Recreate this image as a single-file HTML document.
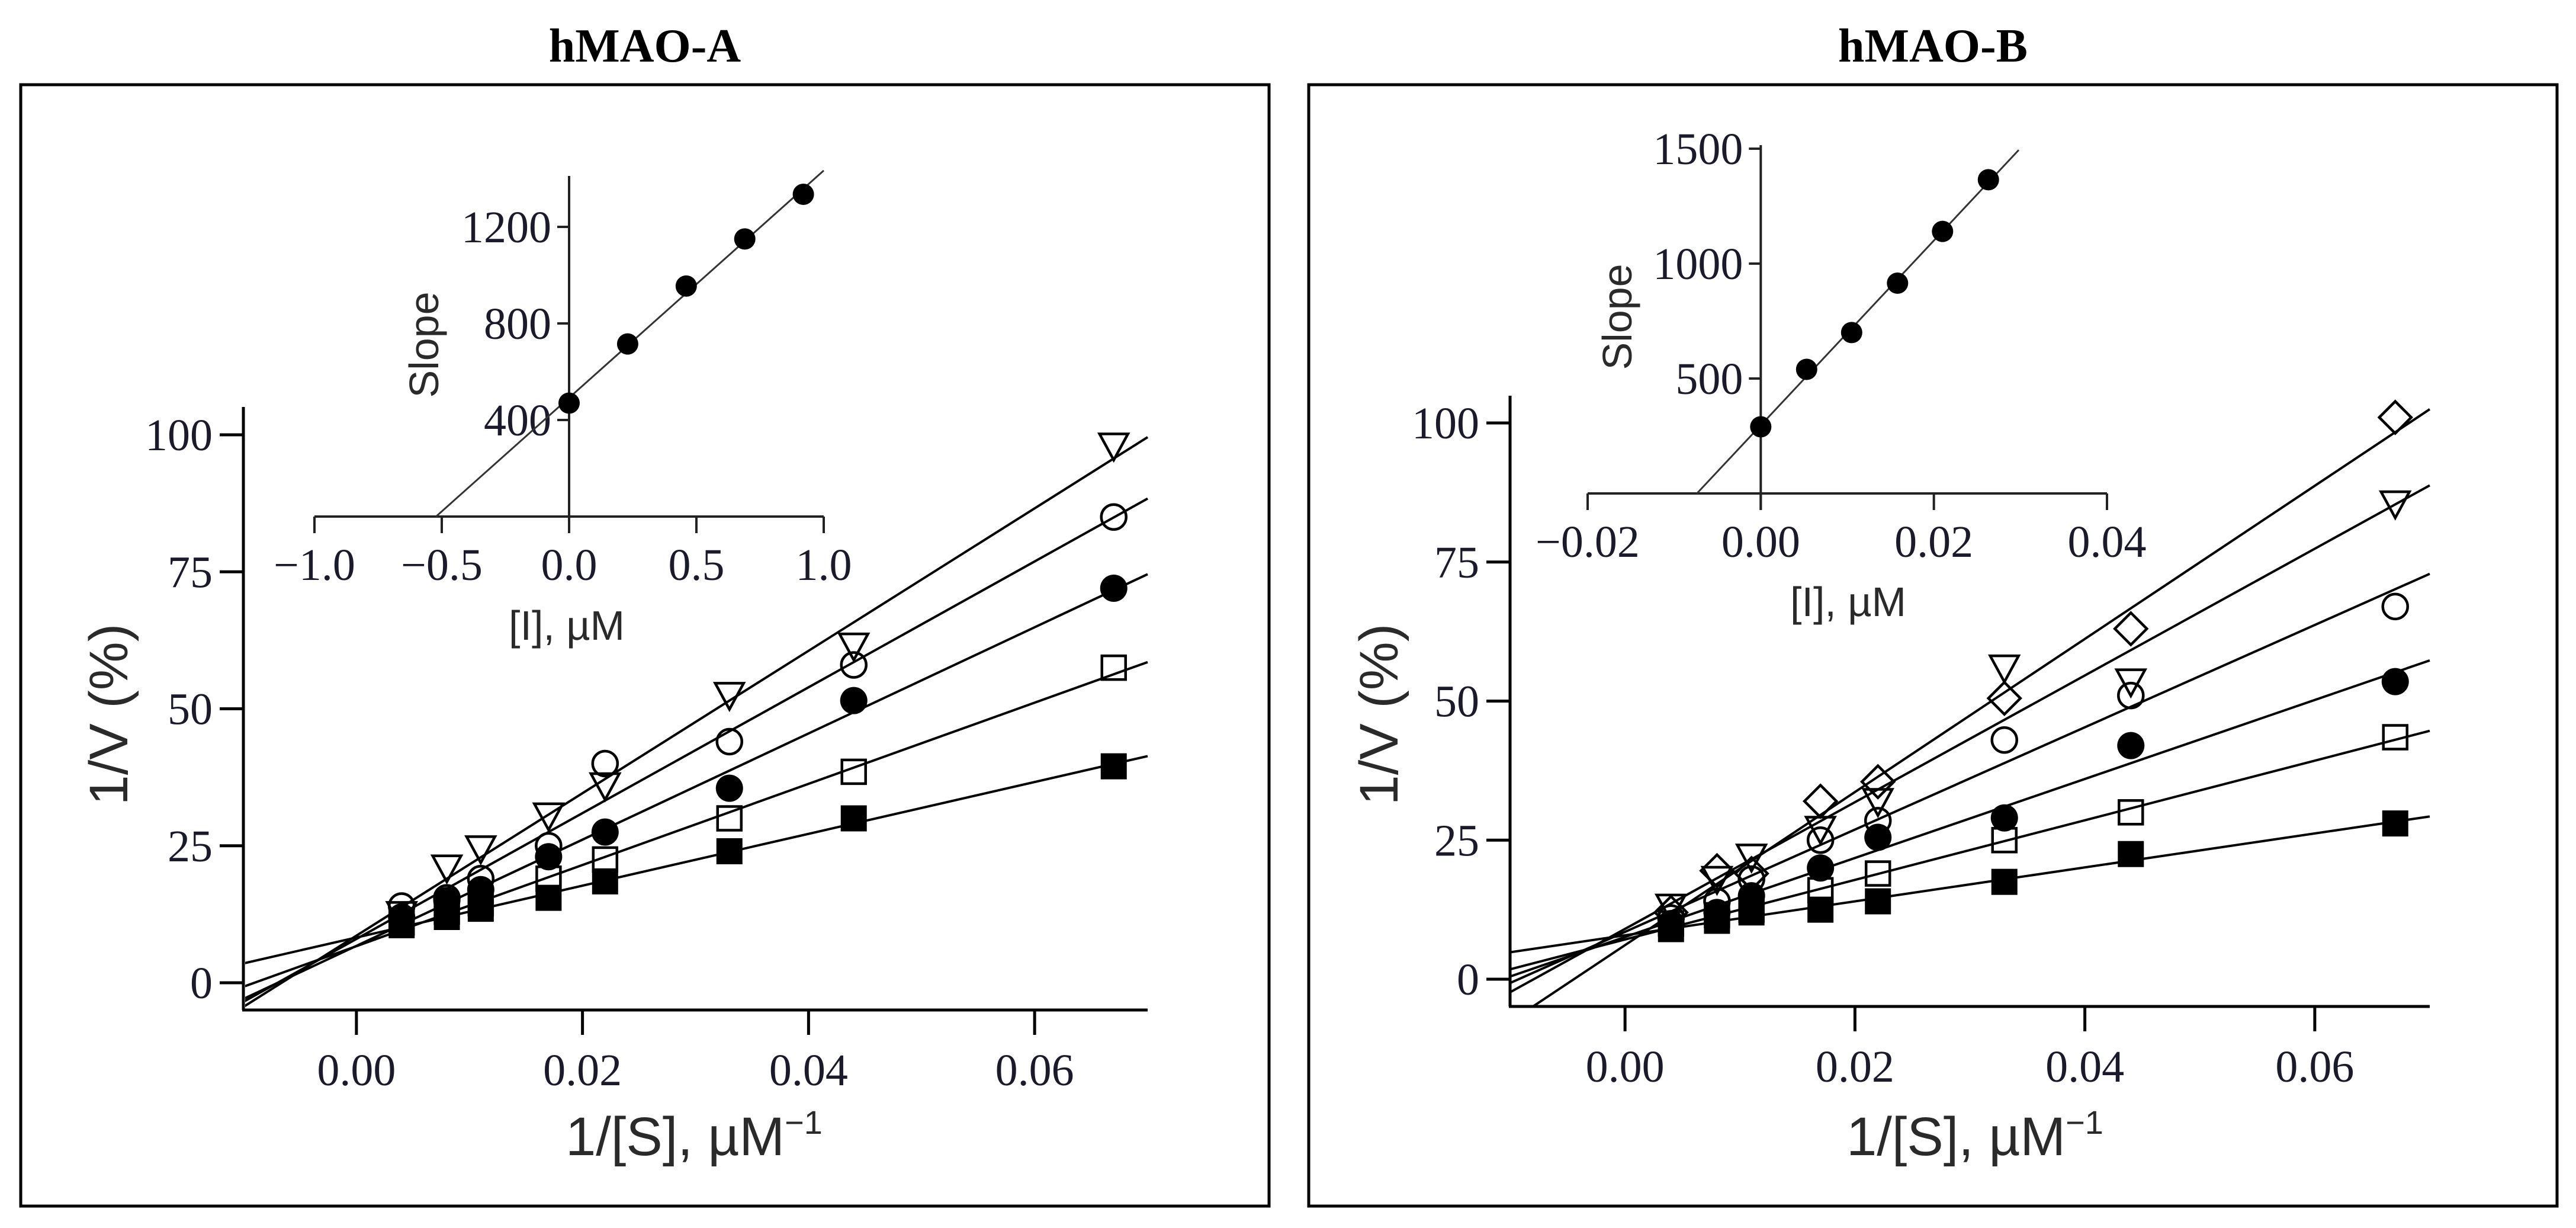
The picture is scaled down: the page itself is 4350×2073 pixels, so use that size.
<!DOCTYPE html>
<html><head><meta charset="utf-8">
<style>
html,body{margin:0;padding:0;background:#fff;}
svg{display:block;}
.tk{font-family:"Liberation Serif",serif;font-size:76px;fill:#1a1a2a;}
.ttl{font-family:"Liberation Serif",serif;font-size:80px;font-weight:bold;fill:#000;}
.ax{font-family:"Liberation Sans",sans-serif;font-size:92px;fill:#2a2a2a;}
.ix{font-family:"Liberation Sans",sans-serif;font-size:70px;fill:#2a2a2a;}
</style></head>
<body>
<svg id="root" width="4350" height="2073" viewBox="0 0 4350 2073" xmlns="http://www.w3.org/2000/svg">
<defs>
<clipPath id="clipA"><rect x="414" y="660" width="1530" height="1045"/></clipPath>
<clipPath id="clipB"><rect x="2550" y="640" width="1560" height="1060"/></clipPath>
</defs>
<text class="ttl" x="1089" y="104" text-anchor="middle">hMAO-A</text>
<text class="ttl" x="3264" y="104" text-anchor="middle">hMAO-B</text>
<rect x="35" y="143" width="2108" height="1893" fill="none" stroke="#000" stroke-width="5"/>
<rect x="2210" y="143" width="2108" height="1893" fill="none" stroke="#000" stroke-width="5"/>
<g id="gA"></g>
<g id="gB"></g>
</svg>
<script>
// ---- data ----
const xS = [0.004, 0.008, 0.011, 0.017, 0.022, 0.033, 0.044, 0.067];
const aFilledSquare = [10.5, 12, 13.5, 15.5, 18.5, 24, 30, 39.5];
const aOpenSquare   = [11, 13, 14.5, 19, 22.5, 30, 38.5, 57.5];
const aFilledCircle = [12, 15, 17, 23, 27.5, 35.5, 51.5, 72];
const aOpenCircle   = [14, 15.5, 19, 25, 40, 44, 58, 85];
const aTriangle     = [12.5, 21, 24.5, 30.5, 36, 52.5, 61.5, 98];
const bFilledSquare = [9, 10.5, 12, 12.5, 14, 17.5, 22.5, 28];
const bOpenSquare   = [10, 11.5, 12.5, 16, 19, 25, 30, 43.5];
const bFilledCircle = [10, 12, 15, 20, 25.5, 29, 42, 53.5];
const bOpenCircle   = [11, 14, 18, 25, 28.5, 43, 51, 67];
const bTriangle     = [13, 18, 22, 27, 32, 56, 53.5, 85.5];
const bDiamond      = [12, 19.5, 19, 32, 35.5, 50.5, 63, 101];
const mainXTicks = [0, 0.02, 0.04, 0.06];
const mainXTickLabels = ["0.00","0.02","0.04","0.06"];
const mainYTicks = [0, 25, 50, 75, 100];
const aInsetX = [0, 0.23, 0.46, 0.69, 0.92];
const aInsetY = [470, 715, 955, 1150, 1335];
const aInsetXTicks = [-1, -0.5, 0, 0.5, 1];
const aInsetXLabels = ["\u22121.0","\u22120.5","0.0","0.5","1.0"];
const aInsetYTicks = [400, 800, 1200];
const bInsetX = [0, 0.0053, 0.0105, 0.0158, 0.021, 0.0263];
const bInsetY = [290, 540, 700, 915, 1140, 1365];
const bInsetXTicks = [-0.02, 0, 0.02, 0.04];
const bInsetXLabels = ["\u22120.02","0.00","0.02","0.04"];
const bInsetYTicks = [500, 1000, 1500];

const NS = "http://www.w3.org/2000/svg";
function mk(parent, tag, attrs){
  const e = document.createElementNS(NS, tag);
  for (const k in attrs) e.setAttribute(k, attrs[k]);
  parent.appendChild(e);
  return e;
}
function lin(d0,d1,r0,r1){ return v => r0 + (v-d0)*(r1-r0)/(d1-d0); }
function fit(xs, ys){
  const n = xs.length; let sx=0, sy=0, sxx=0, sxy=0;
  for (let i=0;i<n;i++){ sx+=xs[i]; sy+=ys[i]; sxx+=xs[i]*xs[i]; sxy+=xs[i]*ys[i]; }
  const m = (n*sxy - sx*sy)/(n*sxx - sx*sx);
  return {m:m, b:(sy - m*sx)/n};
}
function marker(g, type, cx, cy){
  const s = 44, sw = 4.5;
  let e;
  if (type === "fsq") e = mk(g,"rect",{x:cx-s/2,y:cy-s/2,width:s,height:s,fill:"#000"});
  else if (type === "osq") e = mk(g,"rect",{x:cx-s/2+2,y:cy-s/2+2,width:s-4,height:s-4,fill:"none",stroke:"#000","stroke-width":sw});
  else if (type === "fci") e = mk(g,"circle",{cx:cx,cy:cy,r:23,fill:"#000"});
  else if (type === "oci") e = mk(g,"circle",{cx:cx,cy:cy,r:21,fill:"none",stroke:"#000","stroke-width":sw});
  else if (type === "tri") e = mk(g,"polygon",{points:`${cx-24},${cy-20} ${cx+24},${cy-20} ${cx},${cy+24}`,fill:"none",stroke:"#000","stroke-width":sw});
  else e = mk(g,"polygon",{points:`${cx},${cy-27} ${cx+27},${cy} ${cx},${cy+27} ${cx-27},${cy}`,fill:"none",stroke:"#000","stroke-width":sw});
  
  
}

function panel(g, P){
  const X = lin(-0.01, 0.07, P.x0, P.x1);
  const Y = lin(0, 100, P.y0, P.y100);
  const ya = mk(g,"line",{x1:P.x0,y1:P.yTop,x2:P.x0,y2:P.yAxis,stroke:"#000","stroke-width":5});
  
  
  const xa = mk(g,"line",{x1:P.x0-2,y1:P.yAxis,x2:P.x1,y2:P.yAxis,stroke:"#000","stroke-width":5});
  
  
  mainXTicks.forEach((v,i)=>{
    const t = mk(g,"line",{x1:X(v),y1:P.yAxis,x2:X(v),y2:P.yAxis+42,stroke:"#000","stroke-width":5});
    
    
    const l = mk(g,"text",{x:X(v),y:P.yAxis+127,"text-anchor":"middle",class:"tk"});
    l.textContent = mainXTickLabels[i];
    
    
  });
  mainYTicks.forEach(v=>{
    const t = mk(g,"line",{x1:P.x0-40,y1:Y(v),x2:P.x0,y2:Y(v),stroke:"#000","stroke-width":5});
    
    
    const l = mk(g,"text",{x:P.x0-52,y:Y(v)+26,"text-anchor":"end",class:"tk"});
    l.textContent = String(v);
    
    
  });
  const xt = mk(g,"text",{x:P.xTitleX,y:1950,"text-anchor":"middle",class:"ax"});
  xt.innerHTML = '1/[S], \u00b5M<tspan dy="-36" font-size="56">\u22121</tspan>';
  
  
  const yt = mk(g,"text",{transform:`translate(${P.yTitleX},1206) rotate(-90)`,"text-anchor":"middle",class:"ax"});
  yt.textContent = "1/V (%)";
  
  
  const lg = mk(g,"g",{"clip-path":`url(#${P.clip})`});
  
  
  P.series.forEach(s=>{
    const f = fit(xS, s.y);
    const ln = mk(lg,"line",{x1:X(-0.01),y1:Y(f.b + f.m*-0.01),x2:X(0.07),y2:Y(f.b + f.m*0.07),stroke:"#000","stroke-width":4});
    
    
  });
  P.series.forEach(s=>{ s.y.forEach((v,i)=> marker(g, s.t, X(xS[i]), Y(v))); });

  const I = P.inset;
  const IX = lin(I.d0, I.d1, I.px0, I.px1);
  const IY = lin(0, I.yRef, I.yAxis, I.yRefPx);
  const ixa = mk(g,"line",{x1:IX(I.d0),y1:I.yAxis,x2:IX(I.d1),y2:I.yAxis,stroke:"#222","stroke-width":4});
  
  
  const iya = mk(g,"line",{x1:IX(0),y1:I.top,x2:IX(0),y2:I.yAxis+28,stroke:"#222","stroke-width":4});
  
  
  I.xt.forEach((v,i)=>{
    const t = mk(g,"line",{x1:IX(v),y1:I.yAxis,x2:IX(v),y2:I.yAxis+28,stroke:"#222","stroke-width":4});
    
    
    const l = mk(g,"text",{x:IX(v),y:I.yAxis+107,"text-anchor":"middle",class:"tk"});
    l.textContent = I.xl[i];
    
    
  });
  I.yt.forEach(v=>{
    const t = mk(g,"line",{x1:IX(0)-20,y1:IY(v),x2:IX(0),y2:IY(v),stroke:"#222","stroke-width":4});
    
    
    const l = mk(g,"text",{x:IX(0)-30,y:IY(v)+26,"text-anchor":"end",class:"tk"});
    l.textContent = String(v);
    
    
  });
  const f = fit(I.x, I.y);
  const xz = -f.b/f.m, xe = I.lineEnd;
  const il = mk(g,"line",{x1:IX(xz),y1:IY(0),x2:IX(xe),y2:IY(f.b+f.m*xe),stroke:"#333","stroke-width":3});
  
  
  I.x.forEach((v,i)=>{
    const c = mk(g,"circle",{cx:IX(v),cy:IY(I.y[i]),r:18,fill:"#000"});
    
    
  });
  const sl = mk(g,"text",{transform:`translate(${I.slopeX},${I.slopeY}) rotate(-90)`,"text-anchor":"middle",class:"ix"});
  sl.textContent = "Slope";
  
  
  const il2 = mk(g,"text",{x:I.labX,y:I.labY,"text-anchor":"middle",class:"ix"});
  il2.textContent = "[I], \u00b5M";
  
  
}

panel(document.getElementById("gA"), {
  x0:411, x1:1938, yAxis:1705, yTop:687, y0:1659, y100:734,
  xTitleX:1172, yTitleX:215, clip:"clipA",
  series:[{t:"fsq",y:aFilledSquare},{t:"osq",y:aOpenSquare},{t:"fci",y:aFilledCircle},{t:"oci",y:aOpenCircle},{t:"tri",y:aTriangle}],
  inset:{d0:-1,d1:1,px0:531,px1:1391,yAxis:872,yRef:400,yRefPx:709,top:297,
    xt:aInsetXTicks, xl:aInsetXLabels, yt:aInsetYTicks, x:aInsetX, y:aInsetY, lineEnd:1.0,
    slopeX:740, slopeY:582, labX:957, labY:1080}
});
panel(document.getElementById("gB"), {
  x0:2550, x1:4103, yAxis:1699, yTop:668, y0:1653, y100:714,
  xTitleX:3335, yTitleX:2360, clip:"clipB",
  series:[{t:"fsq",y:bFilledSquare},{t:"osq",y:bOpenSquare},{t:"fci",y:bFilledCircle},{t:"oci",y:bOpenCircle},{t:"tri",y:bTriangle},{t:"dia",y:bDiamond}],
  inset:{d0:-0.02,d1:0.04,px0:2681,px1:3558,yAxis:833,yRef:500,yRefPx:639,top:245,
    xt:bInsetXTicks, xl:bInsetXLabels, yt:bInsetYTicks, x:bInsetX, y:bInsetY, lineEnd:0.0298,
    slopeX:2755, slopeY:535, labX:3121, labY:1040}
});
</script>
</body></html>
